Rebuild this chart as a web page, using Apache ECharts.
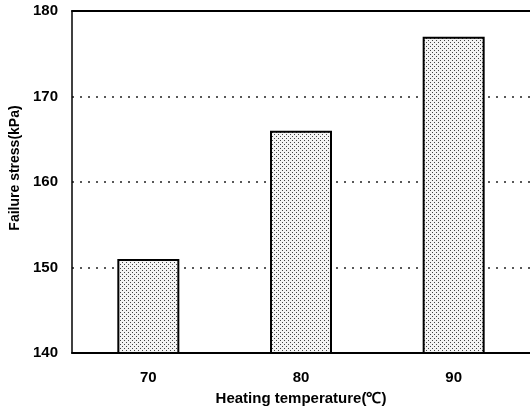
<!DOCTYPE html>
<html>
<head>
<meta charset="utf-8">
<script src="https://cdn.jsdelivr.net/npm/echarts@6/dist/echarts.min.js"></script>
<style>html,body{margin:0;padding:0;background:#fff}#c{width:530px;height:419px}</style>
</head>
<body>
<div id="c"></div>
<script>
const categories = ['70', '80', '90'];
const failureStress = [151, 166, 177];
const yTicks = [140, 150, 160, 170, 180];

function makePattern() {
  const cv = document.createElement('canvas');
  cv.width = 4; cv.height = 4;
  const ctx = cv.getContext('2d');
  ctx.fillStyle = '#f4f4f4';
  ctx.fillRect(0, 0, 4, 4);
  ctx.fillStyle = '#444';
  ctx.fillRect(0, 0, 1, 1);
  ctx.fillRect(2, 2, 1, 1);
  return cv;
}

const chart = echarts.init(document.getElementById('c'));
const font = '"Liberation Sans", Arial, sans-serif';
chart.setOption({
  animation: false,
  grid: { left: 70, right: 0, top: 11, bottom: 66, containLabel: false },
  xAxis: [{
    type: 'category',
    data: categories,
    name: 'Heating temperature(℃)',
    nameLocation: 'middle',
    nameGap: 38,
    nameTextStyle: { color: '#000', fontWeight: 'bold', fontSize: 15, fontFamily: font },
    axisLine: { lineStyle: { color: '#000', width: 2 } },
    axisTick: { show: false },
    axisLabel: { color: '#000', fontWeight: 'bold', fontSize: 15, fontFamily: font, margin: 17 }
  }, {
    type: 'category',
    data: categories,
    position: 'top',
    axisLine: { lineStyle: { color: '#000', width: 2 } },
    axisTick: { show: false },
    axisLabel: { show: false }
  }],
  yAxis: {
    type: 'value',
    min: yTicks[0],
    max: yTicks[yTicks.length - 1],
    interval: 10,
    name: 'Failure stress(kPa)',
    nameLocation: 'middle',
    nameGap: 50,
    nameTextStyle: { color: '#000', fontWeight: 'bold', fontSize: 14, fontFamily: font, padding: [0, 0, 0, 28] },
    axisLine: { show: true, lineStyle: { color: '#000', width: 1.5 } },
    axisTick: { show: false },
    axisLabel: { color: '#000', fontWeight: 'bold', fontSize: 15, fontFamily: font, margin: 14 },
    splitLine: { show: true, lineStyle: { color: '#222', width: 1.5, type: [2, 6] } }
  },
  series: [{
    type: 'bar',
    data: failureStress,
    barWidth: 62,
    itemStyle: {
      color: { image: makePattern(), repeat: 'repeat' },
      borderColor: '#000',
      borderWidth: 2
    }
  }]
});
</script>
</body>
</html>
